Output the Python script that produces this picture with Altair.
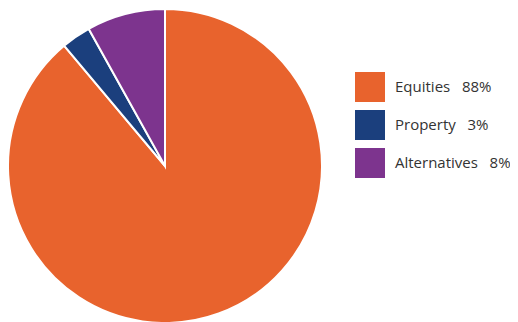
import altair as alt
import pandas as pd

categories = ["Equities", "Property", "Alternatives"]
values = [88, 3, 8]
colors = ["#E8632D", "#1B3F7D", "#7D348E"]

NB = "\u00a0"
labels = [
    f"Equities{NB*3}88%",
    f"Property{NB*3}3%",
    f"Alternatives{NB*3}8%",
]

df = pd.DataFrame({"label": labels, "value": values, "order": [0, 1, 2]})

chart = alt.Chart(df).mark_arc(radius=157, stroke="white", strokeWidth=2).encode(
    x=alt.value(157),
    y=alt.value(158),
    theta=alt.Theta("value:Q", stack=True),
    order=alt.Order("order:Q"),
    color=alt.Color(
        "label:N",
        sort=labels,
        scale=alt.Scale(domain=labels, range=colors),
        legend=alt.Legend(
            title=None,
            orient="none",
            legendX=347,
            legendY=64,
            symbolType="square",
            symbolSize=900,
            symbolStrokeWidth=0,
            symbolOpacity=1,
            labelFontSize=15,
            labelFont="Open Sans",
            labelColor="#333333",
            labelOffset=10,
            rowPadding=8,
            labelLimit=300,
        ),
    ),
).properties(
    width=502, height=314, padding=0,
    autosize=alt.AutoSizeParams(type="none"),
).configure_view(stroke=None)

chart.save("out.html", embed_options={"renderer": "svg", "actions": False})
